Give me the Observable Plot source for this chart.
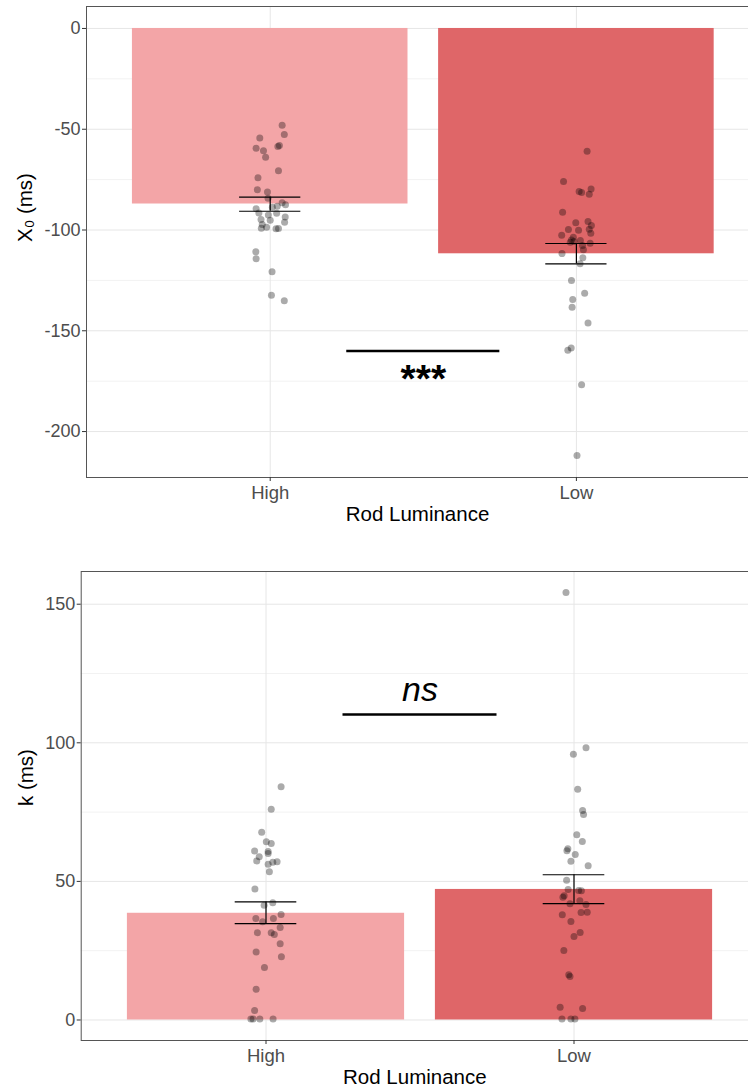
<!DOCTYPE html>
<html>
<head>
<meta charset="utf-8">
<script src="https://cdn.jsdelivr.net/npm/d3@7"></script>
<script src="https://cdn.jsdelivr.net/npm/@observablehq/plot@0.6"></script>
<style>
  html, body { margin: 0; padding: 0; background: #fff; }
  #chart { width: 748px; }
  #chart svg { display: block; }
</style>
</head>
<body>
<div id="chart"></div>
<script>
// ---------- data ----------
const categories = ["High", "Low"];
const categoryPos = [1, 2];
const barColors = ["#F3A5A7", "#DF6668"];
const xTitle = "Rod Luminance";

// Panel 1: X0 (ms)
const x0Title = "X\u2080 (ms)";
const x0Ticks = [0, -50, -100, -150, -200];
const x0Minor = [-25, -75, -125, -175];
const x0Means = [-87.1, -111.8];
const x0ErrLo = [-90.7, -116.8];
const x0ErrHi = [-83.7, -106.7];
const x0HighValues = [-48.0, -52.6, -54.4, -59.4, -60.7, -63.9, -58.6, -58.1, -70.6, -74.1, -80.0, -81.2, -84.2, -86.5, -87.5, -89.5, -88.7, -88.2, -91.5, -92.5, -91.7, -93.6, -94.8, -95.1, -96.1, -97.3, -99.1, -98.6, -99.4, -99.3, -110.8, -114.3, -120.7, -132.4, -135.1];
const x0HighJitter = [0.039, 0.046, -0.034, -0.046, -0.022, -0.015, 0.025, 0.030, 0.027, -0.040, -0.042, -0.009, -0.007, 0.039, 0.050, -0.046, 0.007, 0.023, -0.037, -0.006, 0.021, 0.049, -0.030, 0.000, 0.047, -0.026, -0.029, -0.012, 0.019, 0.027, -0.047, -0.046, 0.006, 0.004, 0.046];
const x0LowValues = [-60.9, -75.9, -79.6, -80.9, -81.4, -82.2, -91.2, -96.4, -95.8, -97.8, -99.8, -100.1, -99.6, -101.6, -102.6, -103.6, -104.9, -105.2, -106.1, -105.7, -107.7, -106.6, -109.8, -111.7, -113.8, -116.8, -125.1, -131.4, -134.5, -138.3, -146.2, -158.5, -159.7, -176.8, -211.9];
const x0LowJitter = [0.035, -0.042, 0.048, 0.009, 0.017, 0.042, -0.045, -0.002, 0.038, 0.049, -0.026, 0.007, 0.042, 0.047, -0.048, -0.010, -0.016, 0.013, -0.020, -0.008, 0.020, 0.045, 0.023, -0.047, 0.021, 0.012, -0.016, 0.027, -0.012, -0.014, 0.038, -0.017, -0.028, 0.017, 0.002];
const x0Sig = {from: 1.25, to: 1.75, y: -160, label: "***"};

// Panel 2: k (ms)
const kTitle = "k (ms)";
const kTicks = [0, 50, 100, 150];
const kMinor = [25, 75, 125];
const kMeans = [38.5, 47.1];
const kErrLo = [34.8, 42.0];
const kErrHi = [42.6, 52.4];
const kHighValues = [84.1, 76.0, 67.7, 64.3, 63.7, 61.0, 60.8, 60.1, 58.9, 57.4, 56.9, 57.1, 56.2, 53.5, 47.3, 42.3, 41.4, 38.1, 36.6, 36.6, 35.4, 33.4, 31.5, 31.5, 30.8, 27.5, 24.5, 22.8, 18.9, 11.1, 3.4, 0.4, 0.4, 0.4, 0.4];
const kHighJitter = [0.049, 0.017, -0.014, 0.001, 0.017, -0.037, 0.007, 0.007, -0.022, -0.030, 0.022, 0.036, 0.007, 0.011, -0.036, 0.022, -0.006, 0.049, -0.033, 0.024, -0.011, 0.046, -0.028, 0.017, 0.027, 0.046, -0.032, 0.050, -0.005, -0.032, -0.037, -0.049, -0.042, -0.020, 0.023];
const kLowValues = [154.2, 98.2, 95.9, 83.2, 75.6, 74.1, 66.8, 64.4, 61.8, 61.1, 59.7, 57.3, 55.6, 50.4, 47.1, 46.7, 46.6, 44.8, 44.3, 43.0, 41.9, 41.7, 38.0, 38.8, 38.9, 35.5, 31.6, 30.1, 25.1, 16.3, 15.7, 4.6, 4.1, 0.4, 0.4, 0.4];
const kLowJitter = [-0.026, 0.039, -0.002, 0.012, 0.028, 0.031, 0.009, 0.027, -0.020, -0.023, 0.004, -0.010, 0.046, -0.024, -0.019, 0.015, 0.024, -0.032, -0.036, 0.019, -0.013, 0.039, -0.038, 0.023, 0.043, -0.010, 0.020, 0.000, -0.033, -0.017, -0.013, -0.045, 0.028, -0.039, -0.010, 0.003];
const kSig = {from: 1.25, to: 1.75, y: 110.2, label: "ns"};

// ---------- helpers ----------
const FONT = "'Liberation Sans', Arial, sans-serif";
const barHalf = 0.45, whiskerHalf = 0.1;

function buildPanel(opts) {
  const bars = categories.map((c, i) => ({cat: c, pos: categoryPos[i], mean: opts.means[i], lo: opts.errLo[i], hi: opts.errHi[i], fill: barColors[i]}));
  const pts = [];
  opts.highValues.forEach((v, i) => pts.push({pos: categoryPos[0] + opts.highJitter[i], v}));
  opts.lowValues.forEach((v, i) => pts.push({pos: categoryPos[1] + opts.lowJitter[i], v}));
  const sig = [opts.sig];
  return Plot.plot({
    width: 748,
    height: opts.height,
    marginTop: opts.marginTop,
    marginBottom: opts.marginBottom,
    marginLeft: opts.marginLeft,
    marginRight: 0,
    style: {fontFamily: FONT, fontSize: "18px", background: "#fff", overflow: "hidden"},
    x: {domain: [0.4, 2.6], range: opts.xRange},
    y: {domain: opts.yDomain},
    marks: [
      Plot.ruleY(opts.minor, {stroke: "#f2f2f2", strokeWidth: 1}),
      Plot.ruleY(opts.ticks, {stroke: "#e6e6e6", strokeWidth: 1}),
      Plot.ruleX(categoryPos, {stroke: "#e6e6e6", strokeWidth: 1}),
      Plot.rectY(bars, {x1: d => d.pos - barHalf, x2: d => d.pos + barHalf, y1: 0, y2: "mean", fill: "fill"}),
      Plot.dot(pts, {x: "pos", y: "v", r: 3.5, fill: "#000", fillOpacity: 0.33, stroke: "none"}),
      Plot.ruleX(bars, {x: "pos", y1: "lo", y2: "hi", stroke: "#000", strokeWidth: 1.2}),
      Plot.ruleY(bars, {y: "lo", x1: d => d.pos - whiskerHalf, x2: d => d.pos + whiskerHalf, stroke: "#000", strokeWidth: 1.2}),
      Plot.ruleY(bars, {y: "hi", x1: d => d.pos - whiskerHalf, x2: d => d.pos + whiskerHalf, stroke: "#000", strokeWidth: 1.2}),
      Plot.ruleY(sig, {y: "y", x1: "from", x2: "to", stroke: "#000", strokeWidth: 2.6}),
      Plot.text(sig, {x: d => (d.from + d.to) / 2, y: "y", text: "label", fontSize: opts.sigFontSize,
        fontStyle: opts.sigItalic ? "italic" : "normal", fontWeight: opts.sigBold ? "bold" : "normal",
        lineAnchor: opts.sigBelow ? "top" : "bottom", dy: opts.sigDy, fill: "#000"}),
      Plot.frame({stroke: "#555", strokeWidth: 1}),
      Plot.axisY(opts.ticks, {tickSize: 4, tickPadding: 2, fontSize: 18, color: "#4d4d4d", stroke: "#333", label: null,
        tickFormat: d => String(d)}),
      Plot.axisX(categoryPos, {tickSize: 4, tickPadding: 4, fontSize: 18.5, color: "#4d4d4d", stroke: "#333", label: null,
        tickFormat: d => categories[categoryPos.indexOf(d)]}),
      Plot.text([xTitle], {frameAnchor: "bottom", dy: opts.xTitleDy, fontSize: 20.5, fill: "#000", lineAnchor: "middle"}),
      Plot.text([opts.title], {frameAnchor: "left", dx: -opts.yTitleOffset, rotate: -90, fontSize: 20.5, fill: "#000", lineAnchor: "middle"})
    ]
  });
}

const chart = document.getElementById("chart");
chart.append(buildPanel({
  height: 540, marginTop: 6, marginBottom: 63, marginLeft: 86, xRange: [86, 759.6],
  yDomain: [-222.8, 10.9], ticks: x0Ticks, minor: x0Minor,
  means: x0Means, errLo: x0ErrLo, errHi: x0ErrHi,
  highValues: x0HighValues, highJitter: x0HighJitter, lowValues: x0LowValues, lowJitter: x0LowJitter,
  sig: x0Sig, sigFontSize: 39, sigItalic: false, sigBold: true, sigBelow: true, sigDy: 13,
  xTitleDy: 37, title: x0Title, yTitleOffset: 61
}));
chart.append(buildPanel({
  height: 549, marginTop: 31, marginBottom: 49, marginLeft: 80.7, xRange: [80.7, 758.3],
  yDomain: [-7.4, 161.8], ticks: kTicks, minor: kMinor,
  means: kMeans, errLo: kErrLo, errHi: kErrHi,
  highValues: kHighValues, highJitter: kHighJitter, lowValues: kLowValues, lowJitter: kLowJitter,
  sig: kSig, sigFontSize: 34, sigItalic: true, sigBold: false, sigBelow: false, sigDy: -14,
  xTitleDy: 37, title: kTitle, yTitleOffset: 55
}));
</script>
</body>
</html>
